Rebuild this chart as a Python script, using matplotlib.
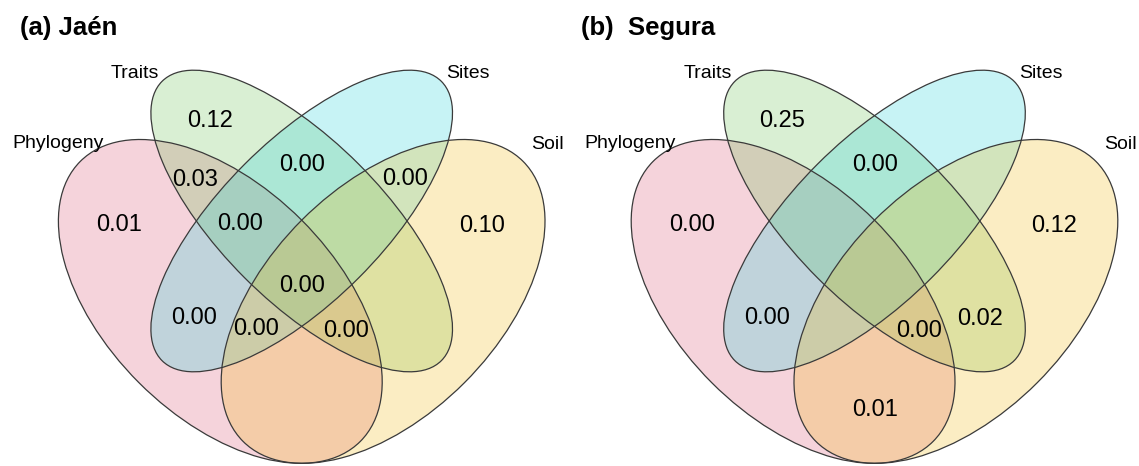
import matplotlib
matplotlib.use('Agg')
import matplotlib.pyplot as plt
from matplotlib.patches import Ellipse

# sets and panels
set_names = ['Phylogeny', 'Traits', 'Sites', 'Soil']
panel_titles = ['(a) Jaén', '(b)  Segura']

# fractions shown in each panel (region = which sets overlap)
jaen_regions = ['T', 'P', 'PT', 'PTSi', 'TSi', 'SiSo', 'So', 'PTSiSo', 'PSi', 'PSiSo', 'PTSo']
jaen_values = [0.12, 0.01, 0.03, 0.00, 0.00, 0.00, 0.10, 0.00, 0.00, 0.00, 0.00]
segura_regions = ['T', 'P', 'TSi', 'So', 'PSi', 'PTSo', 'TSo', 'PSo']
segura_values = [0.25, 0.00, 0.00, 0.12, 0.00, 0.00, 0.02, 0.01]

# layout (pixels, relative to the vertical symmetry axis of each panel)
panel_x0 = [301.7, 874.5]
fill_colors = ['#DB5373', '#6BC353', '#23D3DB', '#F3BB13']
ellipses = [  # dx, cy, width, height, angle
    (-81.4, 301.4, 396, 230, 45),
    (0.0, 221.0, 395, 161, 45),
    (0.0, 221.0, 395, 161, -45),
    (81.4, 301.4, 396, 230, -45),
]
set_label_pos = [(-244, 147.5), (-167, 78.3), (166, 78.3), (246, 149)]
label_pos = {
    'T': (-92, 118.5), 'P': (-182.5, 222.5), 'PT': (-106.7, 177.7),
    'PTSi': (-61.7, 221.7), 'TSi': (0.5, 162.5), 'SiSo': (103.3, 176.7),
    'So': (180, 223), 'PTSiSo': (0, 283), 'PSi': (-107.2, 315),
    'PSiSo': (-45.7, 326.7), 'PTSo': (44.7, 328.7), 'TSo': (105.2, 316.3),
    'PSo': (0.5, 407),
}

plt.rcParams['font.family'] = ['Liberation Sans', 'DejaVu Sans']

fig = plt.figure(figsize=(11.39, 4.66), dpi=100)
ax = fig.add_axes([0, 0, 1, 1])
ax.set_xlim(0, 1139)
ax.set_ylim(466, 0)
ax.axis('off')


def draw_panel(x0, title, regions, values):
    for (dx, cy, w, h, ang), col in zip(ellipses, fill_colors):
        ax.add_patch(Ellipse((x0 + dx, cy), w, h, angle=ang,
                             facecolor=col, alpha=0.25, edgecolor='none'))
    for (dx, cy, w, h, ang) in ellipses:
        ax.add_patch(Ellipse((x0 + dx, cy), w, h, angle=ang,
                             facecolor='none', edgecolor='#3a3a3a', lw=0.9))
    for name, (lx, ly) in zip(set_names, set_label_pos):
        ax.text(x0 + lx, ly, name, fontsize=14, ha='center', va='baseline')
    for reg, val in zip(regions, values):
        lx, ly = label_pos[reg]
        ax.text(x0 + lx, ly + 8.5, f'{val:.2f}', fontsize=17,
                ha='center', va='baseline')
    ax.text(x0 - 281.5 if x0 < 500 else x0 - 293.5, 35, title,
            fontsize=18.5, fontweight='bold', ha='left', va='baseline')


draw_panel(panel_x0[0], panel_titles[0], jaen_regions, jaen_values)
draw_panel(panel_x0[1], panel_titles[1], segura_regions, segura_values)

fig.savefig('out.png', dpi=100)
